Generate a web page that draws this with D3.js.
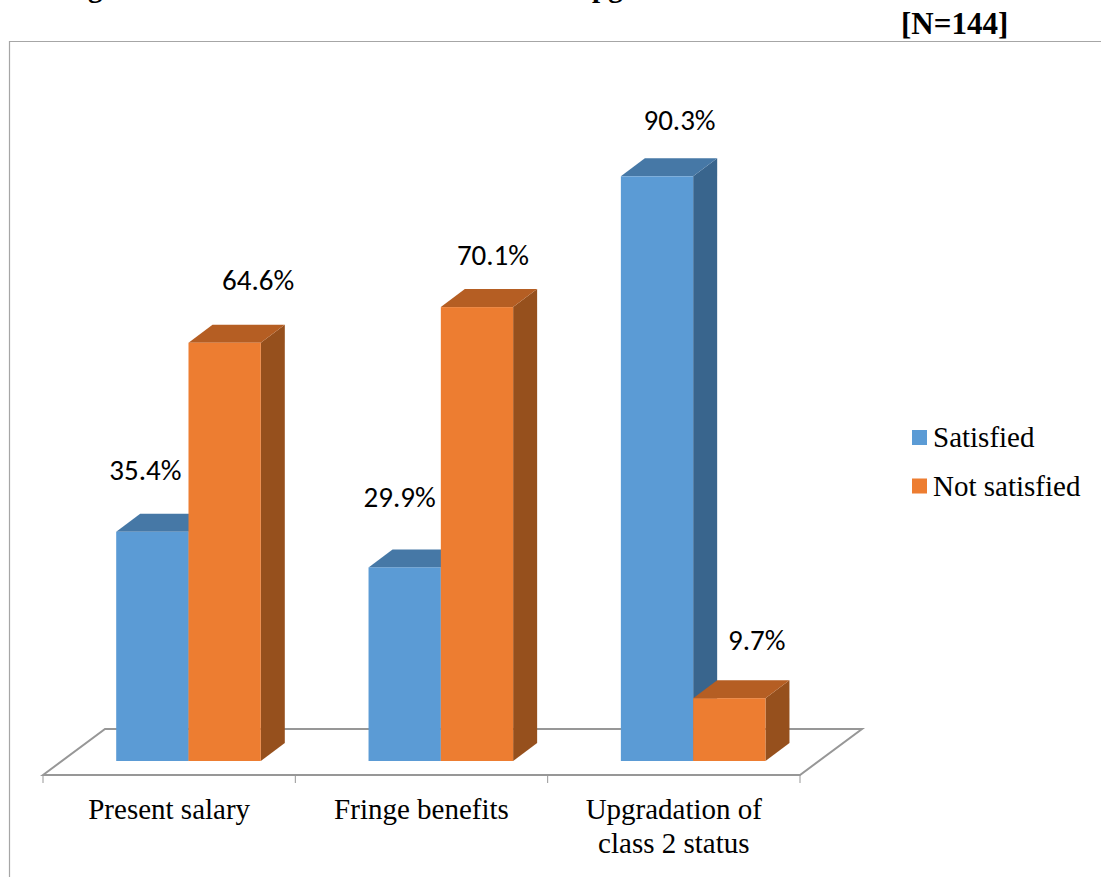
<!DOCTYPE html>
<html>
<head>
<meta charset="utf-8">
<script src="https://cdn.jsdelivr.net/npm/d3@7/dist/d3.min.js"></script>
<style>
html,body{margin:0;padding:0;background:#fff;overflow:hidden}
svg{display:block}
</style>
</head>
<body>
<script>
const categories = ["Present salary", "Fringe benefits", "Upgradation of|class 2 status"];
const seriesNames = ["Satisfied", "Not satisfied"];
const satisfied = [35.4, 29.9, 90.3];
const notSatisfied = [64.6, 70.1, 9.7];
// Hand-placed offsets of the value labels from the centre and top of each bar
const satisfiedNudge = [[-7, -52], [-5, -60], [22.5, -46]];
const notSatisfiedNudge = [[33.5, -52.5], [16, -42], [27.5, -48]];

const W = 1101, H = 877;
const svg = d3.select("body").append("svg").attr("width", W).attr("height", H);
const serif = "'Liberation Serif','Times New Roman',serif";
const sans = "Carlito,Calibri,'Open Sans',sans-serif";
const gridGrey = "#979797";

const baseY = 761, floorFront = 775, floorBack = 729;
const y = d3.scaleLinear().domain([0, 100]).range([baseY, baseY - 647.5]);
const x = d3.scaleBand().domain(categories).range([43, 800]);
const depthX = 24, depthY = -18;

const palette = {
  "Satisfied": {front: "#5b9bd5", top: "#4678a6", side: "#39658d"},
  "Not satisfied": {front: "#ed7d31", top: "#b55e23", side: "#96501d"}
};

// Heading: only the descenders of its letters stay on the page
svg.selectAll("text.head").data([{t: "g", x: 88}, {t: "pg", x: 592}]).join("text").attr("class", "head")
  .attr("x", d => d.x).attr("y", -3).attr("font-family", serif)
  .attr("font-weight", "bold").attr("font-size", 29).attr("fill", "#000")
  .text(d => d.t);
svg.append("text").attr("x", 901).attr("y", 33.5).attr("font-family", serif)
  .attr("font-weight", "bold").attr("font-size", 31).attr("fill", "#000")
  .text("[N=144]");

// Chart frame
svg.append("path").attr("d", "M9.5 877V41.5H1101").attr("fill", "none")
  .attr("stroke", "#a6a6a6").attr("stroke-width", 1.2);

// Floor of the 3D plot
const x0 = x.range()[0], x1 = x.range()[1];
const floorDx = 62;
svg.append("path")
  .attr("d", `M${x0} ${floorFront}L${x0 + floorDx} ${floorBack}H${x1 + floorDx}L${x1} ${floorFront}Z`)
  .attr("fill", "#fff").attr("stroke", gridGrey).attr("stroke-width", 2);

// Category axis ticks and labels
const tickXs = [...categories.map(c => x(c)), x1];
svg.selectAll("line.tick").data(tickXs).join("line").attr("class", "tick")
  .attr("x1", d => d).attr("x2", d => d).attr("y1", floorFront).attr("y2", floorFront + 8)
  .attr("stroke", gridGrey).attr("stroke-width", 1);

const labels = svg.selectAll("text.cat").data(categories).join("text").attr("class", "cat")
  .attr("text-anchor", "middle").attr("font-family", serif).attr("font-size", 29).attr("fill", "#000");
labels.each(function (c) {
  c.split("|").forEach((line, i) => {
    d3.select(this).append("tspan")
      .attr("x", x(c) + x.bandwidth() / 2)
      .attr("y", 819 + i * 34).text(line);
  });
});

// Bars: each one is a front face plus top and side faces
const barW = 72.3;
const barOffset = 73.2;
const bars = categories.flatMap((c, i) => [
  {c, s: seriesNames[0], v: satisfied[i], left: x(c) + barOffset, nudge: satisfiedNudge[i]},
  {c, s: seriesNames[1], v: notSatisfied[i], left: x(c) + barOffset + barW, nudge: notSatisfiedNudge[i]}
]);

const g = svg.selectAll("g.bar").data(bars).join("g").attr("class", "bar");
g.append("path").attr("fill", d => palette[d.s].side)
  .attr("d", d => {
    const r = d.left + barW, t = y(d.v);
    return `M${r} ${t}l${depthX} ${depthY}V${baseY + depthY}l${-depthX} ${-depthY}Z`;
  });
g.append("path").attr("fill", d => palette[d.s].top)
  .attr("d", d => {
    const t = y(d.v);
    return `M${d.left} ${t}l${depthX} ${depthY}h${barW}l${-depthX} ${-depthY}Z`;
  });
g.append("rect").attr("fill", d => palette[d.s].front)
  .attr("x", d => d.left).attr("y", d => y(d.v))
  .attr("width", barW).attr("height", d => baseY - y(d.v));

// Value labels
svg.selectAll("text.val").data(bars).join("text").attr("class", "val")
  .attr("x", d => d.left + barW / 2 + d.nudge[0])
  .attr("y", d => y(d.v) + d.nudge[1])
  .attr("text-anchor", "middle").attr("font-family", sans).attr("font-size", 29).attr("fill", "#000")
  .text(d => d.v.toFixed(1) + "%");

// Legend
const legend = svg.selectAll("g.leg").data(seriesNames).join("g").attr("class", "leg")
  .attr("transform", (d, i) => `translate(912,${430 + i * 48.5})`);
legend.append("rect").attr("width", 15).attr("height", 15).attr("fill", d => palette[d].front);
legend.append("text").attr("x", 21).attr("y", 17).attr("font-family", serif)
  .attr("font-size", 29).attr("fill", "#000").text(d => d);
</script>
</body>
</html>
